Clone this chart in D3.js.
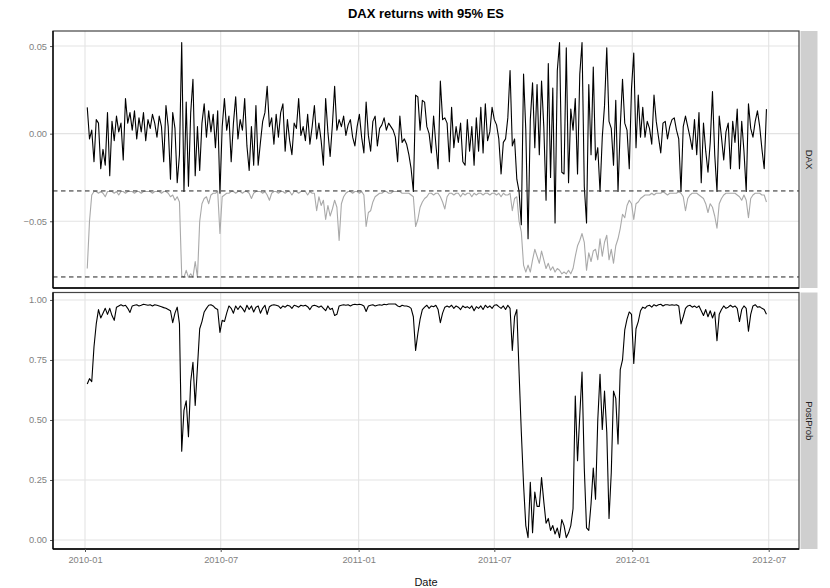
<!DOCTYPE html>
<html>
<head>
<meta charset="utf-8">
<script src="https://cdn.jsdelivr.net/npm/d3@7"></script>
<style>
  body { margin: 0; background: #fff; }
  svg { font-family: "Liberation Sans", Arial, sans-serif; }
</style>
</head>
<body>
<svg id="chart" width="830" height="588"></svg>
<script>
// values sampled every 3 calendar days starting 2010-01-04
var startDate = "2010-01-04";
var stepDays = 3;

var daxReturns = [
  0.015, -0.003, 0.002, -0.016, 0.008, 0.006, -0.020, -0.009, -0.018, 0.012,
  -0.024, 0.007, -0.004, 0.010, 0.001, 0.006, -0.015, 0.020, 0.006, 0.012,
  0.002, 0.013, -0.003, 0.009, 0.001, 0.012, -0.004, 0.008, 0.003, 0.011,
  0.006, -0.002, 0.010, 0.004, -0.016, 0.016, 0.004, -0.026, 0.012, 0.003,
  -0.028, -0.012, 0.052, -0.033, 0.018, -0.030, 0.012, 0.031, -0.024, 0.004,
  -0.021, 0.006, 0.017, -0.002, 0.013, 0.001, 0.011, -0.008, 0.013, -0.034,
  0.004, 0.020, 0.002, 0.010, -0.016, 0.006, 0.021, -0.003, 0.008, 0.002,
  0.020, -0.007, -0.021, 0.004, -0.018, 0.016, -0.018, -0.005, 0.007, 0.012,
  0.027, 0.004, 0.009, -0.006, 0.011, -0.002, 0.012, 0.017, -0.010, 0.008,
  -0.004, -0.012, 0.006, 0.003, 0.020, -0.001, 0.004, -0.004, 0.011, -0.006,
  0.004, 0.016, -0.003, 0.006, -0.004, -0.018, 0.020, 0.001, -0.013, 0.005,
  0.027, 0.002, 0.008, 0.004, 0.010, -0.001, 0.005, 0.008, -0.002, -0.007,
  0.004, 0.011, -0.002, -0.011, 0.018, -0.001, -0.010, 0.007, 0.010, -0.007,
  0.003, 0.005, 0.009, 0.002, 0.006, 0.004, 0.002, -0.002, -0.016, 0.010,
  -0.005, -0.003, -0.006, -0.012, -0.020, -0.033, 0.022, 0.021, 0.002, 0.019,
  0.018, 0.004, 0.000, -0.011, 0.010, -0.006, -0.020, 0.030, 0.008, 0.009,
  0.006, -0.016, 0.015, -0.008, 0.004, -0.005, 0.006, -0.016, -0.018, 0.008,
  -0.010, 0.004, -0.018, 0.009, -0.010, 0.015, -0.011, 0.017, -0.004, 0.001,
  0.015, 0.008, 0.005, -0.003, -0.023, -0.005, -0.003, 0.009, 0.036, -0.007,
  -0.003, -0.026, -0.033, -0.052, 0.034, 0.002, -0.060, 0.008, 0.029, -0.008,
  0.028, -0.012, 0.030, 0.004, -0.038, 0.040, -0.025, 0.026, -0.051, 0.036,
  0.052, -0.022, -0.023, 0.049, -0.028, 0.014, 0.002, 0.020, -0.023, 0.034,
  0.052, -0.030, -0.051, 0.028, -0.012, 0.038, -0.015, -0.008, -0.033, -0.002,
  0.016, 0.049, 0.007, 0.003, -0.018, 0.019, -0.033, 0.004, 0.031, 0.006,
  0.002, -0.020, 0.026, 0.046, -0.008, 0.022, -0.002, 0.015, -0.002, 0.007,
  0.003, -0.006, 0.022, 0.007, -0.002, -0.011, 0.006, 0.007, -0.003, 0.004,
  0.008, 0.009, 0.002, -0.003, -0.033, 0.004, 0.010, 0.004, -0.002, -0.009,
  0.008, -0.012, 0.012, -0.028, 0.006, -0.010, -0.022, -0.005, 0.024, -0.012,
  -0.033, 0.010, -0.002, -0.015, 0.001, 0.006, -0.020, 0.007, -0.005, 0.014,
  -0.020, 0.007, -0.010, -0.033, 0.017, 0.003, -0.002, 0.007, 0.013, 0.004,
  -0.009, -0.020, 0.014
];

var daxES = [
  -0.077, -0.050, -0.035, -0.033, -0.033, -0.034, -0.033, -0.034, -0.036, -0.033,
  -0.033, -0.033, -0.034, -0.033, -0.035, -0.033, -0.033, -0.034, -0.033, -0.033,
  -0.033, -0.034, -0.033, -0.033, -0.034, -0.033, -0.033, -0.033, -0.033, -0.034,
  -0.033, -0.033, -0.033, -0.034, -0.033, -0.033, -0.034, -0.036, -0.035, -0.038,
  -0.036, -0.039, -0.081, -0.082, -0.078, -0.082, -0.080, -0.082, -0.073, -0.082,
  -0.050, -0.040, -0.037, -0.036, -0.040, -0.035, -0.034, -0.034, -0.033, -0.057,
  -0.036, -0.035, -0.034, -0.034, -0.033, -0.033, -0.034, -0.033, -0.033, -0.034,
  -0.033, -0.033, -0.034, -0.037, -0.034, -0.033, -0.033, -0.033, -0.034, -0.033,
  -0.035, -0.038, -0.034, -0.033, -0.033, -0.034, -0.033, -0.033, -0.034, -0.033,
  -0.033, -0.035, -0.033, -0.033, -0.034, -0.033, -0.033, -0.033, -0.035, -0.033,
  -0.034, -0.034, -0.044, -0.036, -0.041, -0.038, -0.049, -0.041, -0.047, -0.043,
  -0.038, -0.042, -0.061, -0.040, -0.036, -0.034, -0.033, -0.033, -0.034, -0.033,
  -0.033, -0.034, -0.033, -0.035, -0.053, -0.045, -0.044, -0.039, -0.036, -0.035,
  -0.034, -0.034, -0.033, -0.033, -0.034, -0.034, -0.033, -0.033, -0.033, -0.033,
  -0.034, -0.034, -0.034, -0.034, -0.035, -0.036, -0.053, -0.049, -0.042, -0.039,
  -0.037, -0.036, -0.034, -0.034, -0.035, -0.034, -0.034, -0.036, -0.039, -0.043,
  -0.036, -0.034, -0.034, -0.035, -0.034, -0.034, -0.036, -0.034, -0.035, -0.034,
  -0.034, -0.036, -0.034, -0.035, -0.034, -0.034, -0.035, -0.034, -0.034, -0.035,
  -0.034, -0.034, -0.035, -0.034, -0.036, -0.034, -0.035, -0.035, -0.034, -0.044,
  -0.037, -0.036, -0.050, -0.056, -0.075, -0.079, -0.075, -0.079, -0.072, -0.066,
  -0.070, -0.074, -0.067, -0.072, -0.077, -0.074, -0.078, -0.076, -0.079, -0.077,
  -0.078, -0.080, -0.079, -0.080, -0.078, -0.080, -0.077, -0.070, -0.064, -0.061,
  -0.057, -0.062, -0.078, -0.068, -0.073, -0.067, -0.066, -0.072, -0.060, -0.070,
  -0.062, -0.058, -0.072, -0.066, -0.074, -0.064, -0.060, -0.054, -0.046, -0.048,
  -0.041, -0.038, -0.040, -0.049, -0.040, -0.039, -0.037, -0.036, -0.035, -0.035,
  -0.035, -0.034, -0.035, -0.034, -0.034, -0.034, -0.033, -0.034, -0.035, -0.034,
  -0.034, -0.034, -0.034, -0.033, -0.034, -0.036, -0.044, -0.037, -0.035, -0.034,
  -0.034, -0.034, -0.035, -0.036, -0.037, -0.040, -0.045, -0.040, -0.042, -0.047,
  -0.054, -0.040, -0.037, -0.035, -0.034, -0.034, -0.034, -0.034, -0.034, -0.035,
  -0.036, -0.038, -0.035, -0.038, -0.048, -0.037, -0.035, -0.034, -0.034, -0.034,
  -0.035, -0.035, -0.039
];

var postProb = [
  0.650, 0.672, 0.660, 0.805, 0.900, 0.960, 0.925, 0.945, 0.965, 0.940,
  0.965, 0.935, 0.915, 0.970, 0.975, 0.980, 0.975, 0.978, 0.965, 0.948,
  0.975, 0.978, 0.980, 0.975, 0.978, 0.982, 0.980, 0.978, 0.980, 0.975,
  0.980, 0.978, 0.975, 0.972, 0.968, 0.965, 0.960, 0.955, 0.905, 0.945,
  0.970, 0.900, 0.370, 0.540, 0.580, 0.430, 0.660, 0.740, 0.560, 0.720,
  0.880, 0.910, 0.950, 0.965, 0.978, 0.980, 0.975, 0.965, 0.960, 0.865,
  0.915, 0.910, 0.945, 0.975, 0.965, 0.945, 0.975, 0.960, 0.975, 0.965,
  0.950, 0.978, 0.960, 0.975, 0.950, 0.970, 0.975, 0.945, 0.965, 0.978,
  0.940, 0.972, 0.978, 0.980, 0.978, 0.975, 0.965, 0.975, 0.970, 0.978,
  0.975, 0.965, 0.978, 0.975, 0.970, 0.978, 0.975, 0.978, 0.972, 0.960,
  0.975, 0.978, 0.975, 0.970, 0.975, 0.965, 0.955, 0.975, 0.960, 0.965,
  0.935, 0.940, 0.975, 0.978, 0.980, 0.978, 0.980, 0.975, 0.980, 0.982,
  0.980, 0.982, 0.980, 0.975, 0.952, 0.975, 0.978, 0.980, 0.975, 0.978,
  0.980, 0.978, 0.982, 0.980, 0.983, 0.983, 0.983, 0.983, 0.975, 0.972,
  0.978, 0.975, 0.975, 0.972, 0.965, 0.930, 0.790, 0.860, 0.920, 0.960,
  0.970, 0.978, 0.965, 0.975, 0.972, 0.978, 0.960, 0.905, 0.945, 0.970,
  0.975, 0.970, 0.978, 0.965, 0.975, 0.970, 0.960, 0.975, 0.968, 0.972,
  0.965, 0.975, 0.955, 0.972, 0.965, 0.975, 0.960, 0.978, 0.968, 0.975,
  0.965, 0.978, 0.980, 0.972, 0.965, 0.975, 0.960, 0.978, 0.965, 0.790,
  0.930, 0.960, 0.700, 0.450, 0.230, 0.060, 0.010, 0.240, 0.030, 0.200,
  0.140, 0.140, 0.260, 0.160, 0.070, 0.090, 0.040, 0.060, 0.025, 0.050,
  0.010, 0.085, 0.060, 0.010, 0.030, 0.060, 0.130, 0.600, 0.330, 0.520,
  0.700, 0.300, 0.050, 0.040, 0.150, 0.300, 0.170, 0.500, 0.690, 0.460,
  0.620, 0.450, 0.090, 0.280, 0.620, 0.590, 0.400, 0.710, 0.750, 0.875,
  0.920, 0.950, 0.940, 0.735, 0.880, 0.910, 0.955, 0.970, 0.965, 0.975,
  0.978, 0.970, 0.980, 0.975, 0.980, 0.982, 0.975, 0.980, 0.980, 0.978,
  0.980, 0.978, 0.980, 0.975, 0.900, 0.930, 0.965, 0.975, 0.978, 0.970,
  0.975, 0.968, 0.975, 0.955, 0.935, 0.960, 0.930, 0.955, 0.925, 0.950,
  0.830, 0.940, 0.960, 0.975, 0.965, 0.970, 0.978, 0.970, 0.975, 0.965,
  0.910, 0.960, 0.975, 0.965, 0.870, 0.940, 0.975, 0.980, 0.970, 0.972,
  0.965, 0.960, 0.940
];

var esLevels = [-0.0327, -0.0818];
var xTickLabels = ["2010-01", "2010-07", "2011-01", "2011-07", "2012-01", "2012-07"];
var daxTicks = [-0.05, 0.00, 0.05];
var probTicks = [0.00, 0.25, 0.50, 0.75, 1.00];
var facetNames = ["DAX", "PostProb"];

var svg = d3.select("#chart"),
    left = 53, right = 799,
    p1 = {top: 31, bottom: 288},
    p2 = {top: 292.5, bottom: 549};

var parse = d3.utcParse("%Y-%m-%d"),
    parseMonth = d3.utcParse("%Y-%m"),
    t0 = parse(startDate);

var rows = daxReturns.map(function(d, i) {
  return {date: d3.utcDay.offset(t0, i * stepDays), ret: d, es: daxES[i], prob: postProb[i]};
});

var tickDates = xTickLabels.map(function(s) { return parseMonth(s); });

// x scale anchored on the first and last tick
var x = d3.scaleUtc()
    .domain([tickDates[0], tickDates[tickDates.length - 1]])
    .range([85, 768.7]);

var y1 = d3.scaleLinear().domain([-0.0881, 0.0586]).range([p1.bottom, p1.top]);
var y2 = d3.scaleLinear().domain([-0.0375, 1.031]).range([p2.bottom, p2.top]);

var fmt2 = function(d) { return d3.format(".2f")(d).replace("-", "\u2212"); };

function panel(p, y, ticks, name) {
  var g = svg.append("g");
  g.append("rect")
      .attr("x", left).attr("y", p.top)
      .attr("width", right - left).attr("height", p.bottom - p.top)
      .attr("fill", "#fff");

  // grid
  g.selectAll(".gy").data(ticks).enter().append("line")
      .attr("x1", left).attr("x2", right)
      .attr("y1", function(d) { return y(d); }).attr("y2", function(d) { return y(d); })
      .attr("stroke", "#e3e3e3").attr("stroke-width", 1.1);
  g.selectAll(".gx").data(tickDates).enter().append("line")
      .attr("x1", function(d) { return x(d); }).attr("x2", function(d) { return x(d); })
      .attr("y1", p.top).attr("y2", p.bottom)
      .attr("stroke", "#e3e3e3").attr("stroke-width", 1.1);

  // y axis
  var ax = g.append("g")
      .attr("transform", "translate(" + left + ",0)")
      .call(d3.axisLeft(y).tickValues(ticks).tickSize(3).tickPadding(3).tickFormat(fmt2));
  ax.select(".domain").remove();
  ax.selectAll("line").attr("stroke", "#555");
  ax.selectAll("text").attr("fill", "#7f7f7f").attr("font-size", 9.3)
      .attr("font-family", "Liberation Sans, Arial, sans-serif");

  // strip
  g.append("rect")
      .attr("x", right + 1.5).attr("y", p.top)
      .attr("width", 17).attr("height", p.bottom - p.top)
      .attr("fill", "#cfcfcf");
  g.append("text")
      .attr("transform", "translate(" + (right + 10) + "," + ((p.top + p.bottom) / 2) + ") rotate(90)")
      .attr("text-anchor", "middle")
      .attr("dy", "0.35em")
      .attr("font-size", 9.5)
      .attr("fill", "#222")
      .text(name);
  return g;
}

var g1 = panel(p1, y1, daxTicks, facetNames[0]);
var g2 = panel(p2, y2, probTicks, facetNames[1]);

var clip1 = svg.append("clipPath").attr("id", "c1").append("rect")
    .attr("x", left).attr("y", p1.top).attr("width", right - left).attr("height", p1.bottom - p1.top);

var esLine = d3.line().x(function(d) { return x(d.date); }).y(function(d) { return y1(d.es); });
var retLine = d3.line().x(function(d) { return x(d.date); }).y(function(d) { return y1(d.ret); });
var probLine = d3.line().x(function(d) { return x(d.date); }).y(function(d) { return y2(d.prob); });

g1.append("path").datum(rows)
    .attr("d", esLine)
    .attr("fill", "none").attr("stroke", "#a9a9a9").attr("stroke-width", 1.1)
    .attr("stroke-linejoin", "round");

g1.append("path").datum(rows)
    .attr("d", retLine)
    .attr("fill", "none").attr("stroke", "#000").attr("stroke-width", 1.1)
    .attr("stroke-linejoin", "round");

g1.selectAll(".es").data(esLevels).enter().append("line")
    .attr("x1", left).attr("x2", right)
    .attr("y1", function(d) { return y1(d); }).attr("y2", function(d) { return y1(d); })
    .attr("stroke", "#222").attr("stroke-width", 1)
    .attr("stroke-dasharray", "4.5,3.5");

g2.append("path").datum(rows)
    .attr("d", probLine)
    .attr("fill", "none").attr("stroke", "#000").attr("stroke-width", 1.1)
    .attr("stroke-linejoin", "round");

// borders
[p1, p2].forEach(function(p) {
  svg.append("rect")
      .attr("x", left).attr("y", p.top)
      .attr("width", right - left).attr("height", p.bottom - p.top)
      .attr("fill", "none").attr("stroke", "#444").attr("stroke-width", 1.2);
  svg.append("line")
      .attr("x1", left).attr("x2", left).attr("y1", p.top).attr("y2", p.bottom)
      .attr("stroke", "#000").attr("stroke-width", 1.3);
  svg.append("line")
      .attr("x1", left).attr("x2", right).attr("y1", p.bottom).attr("y2", p.bottom)
      .attr("stroke", "#000").attr("stroke-width", 1.3);
});

// x axis
var xa = svg.append("g")
    .attr("transform", "translate(0," + p2.bottom + ")")
    .call(d3.axisBottom(x).tickValues(tickDates).tickSize(3).tickPadding(4)
      .tickFormat(function(d, i) { return xTickLabels[i]; }));
xa.select(".domain").remove();
xa.selectAll("line").attr("stroke", "#555");
xa.selectAll("text").attr("fill", "#7f7f7f").attr("font-size", 9.3)
    .attr("font-family", "Liberation Sans, Arial, sans-serif");

svg.append("text")
    .attr("x", (left + right) / 2).attr("y", 586)
    .attr("text-anchor", "middle")
    .attr("font-size", 11)
    .attr("fill", "#111")
    .text("Date");

svg.append("text")
    .attr("x", (left + right) / 2).attr("y", 18)
    .attr("text-anchor", "middle")
    .attr("font-size", 13)
    .attr("font-weight", "bold")
    .attr("fill", "#000")
    .text("DAX returns with 95% ES");
</script>
</body>
</html>
